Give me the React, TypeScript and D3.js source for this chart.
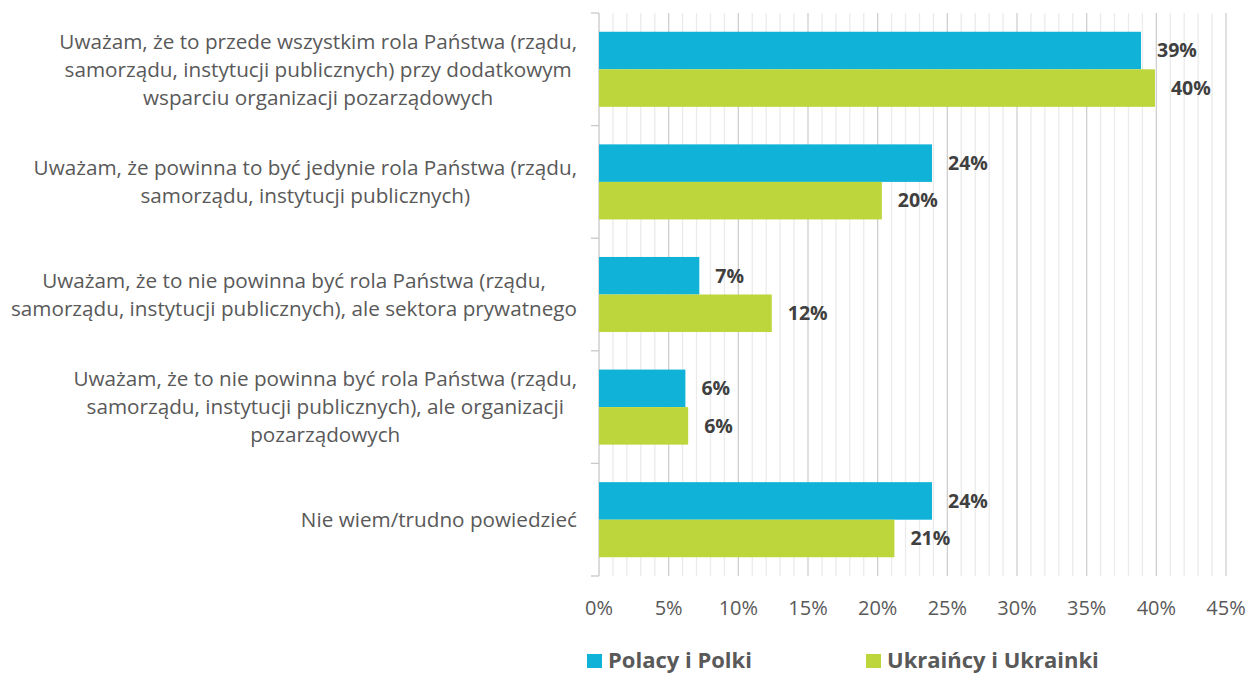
import React, { useEffect, useRef } from "react";
import * as d3 from "d3";

const categories: string[][] = [
  ["Uważam, że to przede wszystkim rola Państwa (rządu,", "samorządu, instytucji publicznych) przy dodatkowym", "wsparciu organizacji pozarządowych"],
  ["Uważam, że powinna to być jedynie rola Państwa (rządu,", "samorządu, instytucji publicznych)"],
  ["Uważam, że to nie powinna być rola Państwa (rządu,", "samorządu, instytucji publicznych), ale sektora prywatnego"],
  ["Uważam, że to nie powinna być rola Państwa (rządu,", "samorządu, instytucji publicznych), ale organizacji", "pozarządowych"],
  ["Nie wiem/trudno powiedzieć"],
];
const seriesNames = ["Polacy i Polki", "Ukraińcy i Ukrainki"];
const polacy = [38.9, 23.9, 7.2, 6.2, 23.9];
const ukraincy = [39.9, 20.3, 12.4, 6.4, 21.2];
const xTicks = [0, 5, 10, 15, 20, 25, 30, 35, 40, 45];
const colors = ["#10B2D7", "#BCD63B"];

const W = 1248;
const H = 674;
const FONT = "'Open Sans', sans-serif";

export default function App() {
  const ref = useRef<SVGSVGElement | null>(null);

  useEffect(() => {
    const svg = d3.select(ref.current);
    svg.selectAll("*").remove();

    const x = d3.scaleLinear().domain([0, 45]).range([599, 1226]);
    const idx = categories.map((_, i) => String(i));
    const y = d3.scaleBand().domain(idx).range([13, 576]).padding(0);
    const yInner = d3.scaleBand().domain(["0", "1"]).range([0, y.bandwidth()]).paddingInner(0).paddingOuter(0.5);

    // gridlines
    const grid = svg.append("g");
    const minor = d3.range(1, 46);
    grid.selectAll("line.minor")
      .data(minor.filter((v) => v % 5 !== 0))
      .join("line")
      .attr("x1", (d) => x(d)).attr("x2", (d) => x(d))
      .attr("y1", 13).attr("y2", 576)
      .attr("stroke", "#ebebeb").attr("stroke-width", 1.3);
    grid.selectAll("line.major")
      .data(xTicks.filter((v) => v > 0))
      .join("line")
      .attr("x1", (d) => x(d)).attr("x2", (d) => x(d))
      .attr("y1", 13).attr("y2", 576)
      .attr("stroke", "#cfcfcf").attr("stroke-width", 1.3);

    // left axis
    svg.append("line").attr("x1", x(0)).attr("x2", x(0)).attr("y1", 13).attr("y2", 576)
      .attr("stroke", "#c8c8c8").attr("stroke-width", 1.3);
    const bounds = idx.map((d) => y(d)!).concat([576]);
    svg.selectAll("line.ytick").data(bounds).join("line")
      .attr("x1", x(0) - 8).attr("x2", x(0)).attr("y1", (d) => d).attr("y2", (d) => d)
      .attr("stroke", "#c8c8c8").attr("stroke-width", 1.3);

    // bars
    const seriesData = [polacy, ukraincy];
    seriesData.forEach((vals, s) => {
      const g = svg.append("g");
      g.selectAll("rect").data(vals).join("rect")
        .attr("x", x(0))
        .attr("y", (_, i) => y(String(i))! + yInner(String(s))!)
        .attr("width", (d) => x(d) - x(0))
        .attr("height", yInner.bandwidth())
        .attr("fill", colors[s]);
      g.selectAll("text").data(vals).join("text")
        .attr("x", (d) => x(d) + 16)
        .attr("y", (_, i) => y(String(i))! + yInner(String(s))! + yInner.bandwidth() / 2)
        .attr("dy", "0.35em")
        .attr("font-family", FONT).attr("font-weight", 700).attr("font-size", 19.5)
        .attr("fill", "#404040")
        .text((d) => `${Math.round(d)}%`);
    });

    // category labels
    categories.forEach((lines, i) => {
      const g = svg.append("g");
      const lh = 28;
      const cy = y(String(i))! + y.bandwidth() / 2;
      const texts = lines.map((l, j) =>
        g.append("text")
          .attr("y", cy + (j - (lines.length - 1) / 2) * lh)
          .attr("dy", "0.35em")
          .attr("font-family", FONT).attr("font-size", 20.7)
          .attr("fill", "#595959")
          .attr("text-anchor", "middle")
          .text(l)
      );
      const widths = texts.map((t) => (t.node() as SVGTextElement).getComputedTextLength());
      const maxW = Math.max(...widths);
      const cx = 577 - maxW / 2;
      texts.forEach((t) => t.attr("x", cx));
    });

    // x tick labels
    svg.selectAll("text.xt").data(xTicks).join("text")
      .attr("x", (d) => x(d)).attr("y", 608).attr("dy", "0.35em")
      .attr("text-anchor", "middle")
      .attr("font-family", FONT).attr("font-size", 20)
      .attr("fill", "#595959")
      .text((d) => `${d}%`);

    // legend
    const legX = [587, 866];
    seriesNames.forEach((n, s) => {
      svg.append("rect").attr("x", legX[s]).attr("y", 654).attr("width", 15).attr("height", 14).attr("fill", colors[s]);
      svg.append("text").attr("x", legX[s] + 21).attr("y", 668)
        .attr("font-family", FONT).attr("font-weight", 700).attr("font-size", 22)
        .attr("fill", "#595959").text(n);
    });
  }, []);

  return (
    <svg ref={ref} width={W} height={H} style={{ position: "absolute", left: 0, top: 0, background: "#fff" }} />
  );
}
